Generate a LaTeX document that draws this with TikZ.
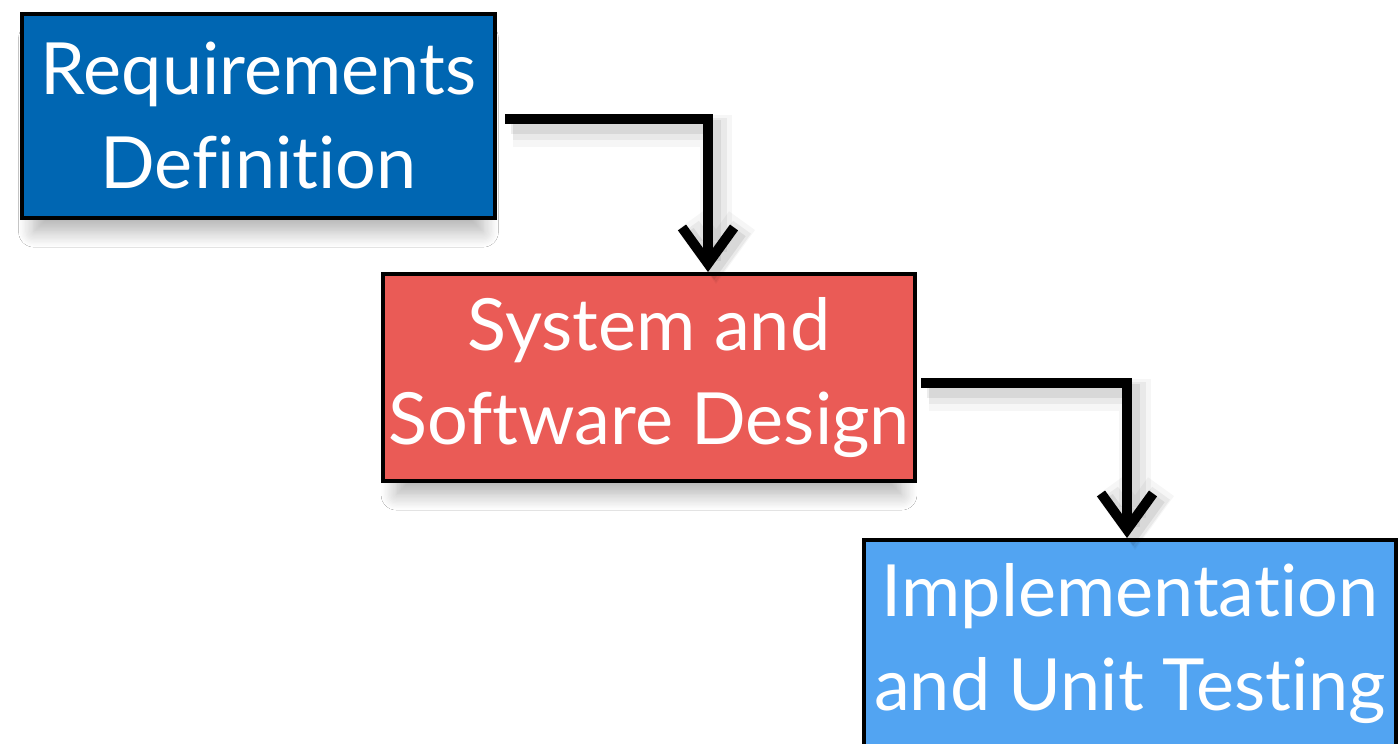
\documentclass[tikz,border=0pt]{standalone}
\usepackage{fontspec}
\setmainfont{Lato}[Ligatures={NoCommon,NoContextual,NoRequired}]
\usetikzlibrary{arrows.meta,shadows.blur}
\definecolor{reqblue}{RGB}{0,102,178}
\definecolor{desred}{RGB}{234,91,86}
\definecolor{implblue}{RGB}{82,164,242}
\begin{document}
\begin{tikzpicture}[x=0.5pt,y=-0.5pt,
  phase/.style={draw=black, line width=2pt, text=white, align=center,
    font=\fontsize{36}{47}\selectfont, inner sep=0pt,
    minimum width=266pt, minimum height=103.5pt,
    blur shadow={shadow xshift=0pt, shadow yshift=-10pt, shadow scale=0.95,
      shadow blur radius=8pt, shadow blur steps=12, shadow opacity=30}},
  flow/.style={draw=black, line width=5pt, line join=miter,
    -{Straight Barb[length=18pt,width=26pt]},
    preaction={draw=black, opacity=0.035, line width=16pt, transform canvas={shift={(4pt,-6pt)}}},
    preaction={draw=black, opacity=0.05, line width=11pt, transform canvas={shift={(4pt,-5pt)}}},
    preaction={draw=black, opacity=0.07, line width=7pt, transform canvas={shift={(3pt,-4pt)}}}}]
\useasboundingbox (0,0) rectangle (1400,743);
\fill[white] (0,0) rectangle (1400,743);
\clip (0,0) rectangle (1400,743);
\node[phase, fill=reqblue, minimum width=236.5pt, minimum height=102pt] (r1) at (258.5,116) {Requirements\\Definition};
\node[phase, fill=desred] (r2) at (649,377.5) {System and\\Software Design};
\node[phase, fill=implblue] (r3) at (1130,643.5) {Implementation\\and Unit Testing};
\coordinate (k1) at (708,119);
\coordinate (k2) at (1127,383);
\draw[flow, shorten <=4pt] (r1.east |- k1) -- (k1) -- (r2.north -| k1);
\draw[flow, shorten <=2pt] (r2.east |- k2) -- (k2) -- (r3.north -| k2);
\end{tikzpicture}
\end{document}
